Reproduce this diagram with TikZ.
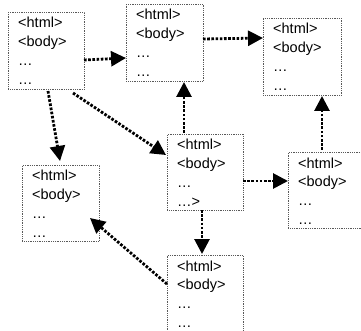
\documentclass[tikz,border=0pt]{standalone}
\usepackage{fontspec}
\setmainfont{Liberation Sans}
\usetikzlibrary{arrows.meta}

% four lines of a page: <html>, <body>, two ellipses (the last one given)
\newcommand\pagetext[1]{\vtop{\baselineskip=18.8pt
  \hbox{<html>}\hbox{<body>}\hbox{\ldots}\hbox{#1}}}

\begin{document}
\begin{tikzpicture}[x=1pt,y=-1pt,
  pagebox/.style={draw=black!65, line width=0.9pt, dash pattern=on 0.9pt off 0.9pt,
    rectangle, inner sep=0pt, anchor=north west},
  pagelabel/.style={inner sep=0pt, anchor=base west, font=\fontsize{14.5}{18.8}\selectfont},
  link/.style={line width=2.8pt, dash pattern=on 2.6pt off 1.6pt,
    -{Triangle[length=15pt,width=15pt]}}]
\clip (0,0) rectangle (361,331);
\fill[white] (0,0) rectangle (361,331);

% pages
\node[pagebox, minimum width=76, minimum height=77] (A) at (8,12) {};
\node[pagebox, minimum width=77, minimum height=77] (B) at (126,4) {};
\node[pagebox, minimum width=78, minimum height=77] (C) at (263,18) {};
\node[pagebox, minimum width=76, minimum height=76] (D) at (167,134) {};
\node[pagebox, minimum width=77, minimum height=76] (E) at (288,152) {};
\node[pagebox, minimum width=77, minimum height=76] (F) at (22,165) {};
\node[pagebox, minimum width=76, minimum height=80] (G) at (167,255) {};

% page contents
\node[pagelabel] (At) at ([shift={(10,16)}]A.north west) {\pagetext{\ldots}};
\node[pagelabel] (Bt) at ([shift={(10,16)}]B.north west) {\pagetext{\ldots}};
\node[pagelabel] (Ct) at ([shift={(10,16)}]C.north west) {\pagetext{\ldots}};
\node[pagelabel] (Dt) at ([shift={(10,16)}]D.north west) {\pagetext{\ldots>}};
\node[pagelabel] (Et) at ([shift={(10,16)}]E.north west) {\pagetext{\ldots}};
\node[pagelabel] (Ft) at ([shift={(10,16)}]F.north west) {\pagetext{\ldots}};
\node[pagelabel] (Gt) at ([shift={(10,16)}]G.north west) {\pagetext{\ldots}};

% hyperlinks between pages
\draw[link] ([shift={(76,48)}]A.north west) -- ([shift={(0,54)}]B.north west);
\draw[link] ([shift={(77,35)}]B.north west) -- ([shift={(0,20)}]C.north west);
\draw[link] ([shift={(40,79)}]A.north west) -- ([shift={(38,-4)}]F.north west);
\draw[link] ([shift={(65,81)}]A.north west) -- ([shift={(-1,21)}]D.north west);
\draw[link] ([shift={(17,-1)}]D.north west) -- ([shift={(58,78)}]B.north west);
\draw[link] ([shift={(34,-2)}]E.north west) -- ([shift={(59,78)}]C.north west);
\draw[link] ([shift={(76,47)}]D.north west) -- ([shift={(0,29)}]E.north west);
\draw[link] ([shift={(35,76)}]D.north west) -- ([shift={(35,-1)}]G.north west);
\draw[link] ([shift={(0,29)}]G.north west) -- ([shift={(68,53)}]F.north west);
\end{tikzpicture}
\end{document}
